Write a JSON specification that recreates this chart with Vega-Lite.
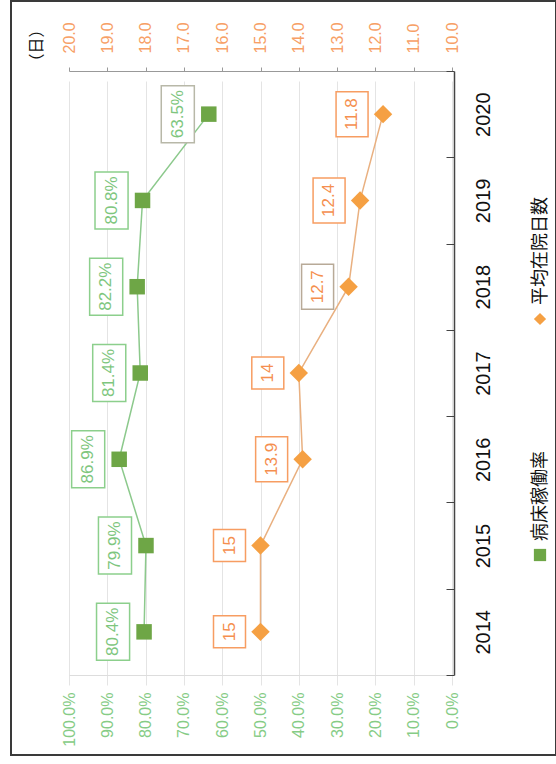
{
  "$schema": "https://vega.github.io/schema/vega-lite/v6.json",
  "width": 545,
  "height": 754,
  "autosize": {"type": "none"},
  "padding": {"left": 11, "top": 1, "right": 0, "bottom": 9},
  "background": "white",
  "config": {"view": {"stroke": "#3a3a3a", "strokeWidth": 2}, "font": "Liberation Sans"},
  "data": {
    "values": [
      {"series": "病床稼働率", "year": "2014", "value": 0.804},
      {"series": "病床稼働率", "year": "2015", "value": 0.799},
      {"series": "病床稼働率", "year": "2016", "value": 0.869},
      {"series": "病床稼働率", "year": "2017", "value": 0.814},
      {"series": "病床稼働率", "year": "2018", "value": 0.822},
      {"series": "病床稼働率", "year": "2019", "value": 0.808},
      {"series": "病床稼働率", "year": "2020", "value": 0.635},
      {"series": "平均在院日数", "year": "2014", "value": 15},
      {"series": "平均在院日数", "year": "2015", "value": 15},
      {"series": "平均在院日数", "year": "2016", "value": 13.9},
      {"series": "平均在院日数", "year": "2017", "value": 14},
      {"series": "平均在院日数", "year": "2018", "value": 12.7},
      {"series": "平均在院日数", "year": "2019", "value": 12.4},
      {"series": "平均在院日数", "year": "2020", "value": 11.8}
    ]
  },
  "layer": [
    {
      "transform": [{"filter": "datum.series == '病床稼働率'"}],
      "encoding": {
        "y": {
          "field": "year", "type": "ordinal", "sort": "descending",
          "scale": {"type": "band", "paddingInner": 0, "paddingOuter": 0, "range": [70, 674]},
          "axis": {
            "orient": "right", "offset": -102, "title": null, "labelAngle": -90, "labelAlign": "center", "labelBaseline": "top",
            "labelFontSize": 20, "labelColor": "#111111", "labelPadding": 27, "tickBand": "extent",
            "tickSize": -8, "tickColor": "#444444", "domainColor": "#444444", "domainWidth": 1.5, "grid": false
          }
        },
        "x": {
          "field": "value", "type": "quantitative",
          "scale": {"domain": [0, 1], "range": [441, 58], "nice": false, "zero": false},
          "axis": {
            "orient": "bottom", "offset": -80, "format": ".1%", "values": [0, 0.1, 0.2, 0.3, 0.4, 0.5, 0.6, 0.7, 0.8, 0.9, 1],
            "grid": true, "gridColor": "#e4e4e4", "gridWidth": 1, "ticks": false, "domainColor": "#dddddd",
            "labelAngle": -90, "labelAlign": "right", "labelBaseline": "middle", "labelPadding": 17,
            "labelColor": "#86cc86", "labelFontSize": 16, "title": null, "labelOverlap": false, "labelFlush": false
          }
        }
      },
      "layer": [
        {"mark": {"type": "line", "color": "#8cc98c", "strokeWidth": 1.5}},
        {
          "mark": {"type": "point", "shape": "M-0.58,-1H0.58V1H-0.58Z", "size": 3249, "fill": "white", "fillOpacity": 1, "opacity": 1, "strokeWidth": 1.5, "xOffset": -31},
          "encoding": {"stroke": {"condition": {"test": "datum.year == '2020'", "value": "#b8b8a8"}, "value": "#8ccf8c"}}
        },
        {
          "mark": {"type": "point", "filled": true, "size": 240, "opacity": 1},
          "encoding": {
            "color": {
              "field": "series", "type": "nominal",
              "scale": {"domain": ["平均在院日数", "病床稼働率"], "range": ["#f5a043", "#6ea646"]},
              "legend": {
                "title": null, "orient": "none", "legendX": 520, "legendY": 309, "direction": "vertical",
                "symbolSize": 150, "symbolStrokeWidth": 0, "labelFont": "Noto Sans CJK JP", "labelFontSize": 18,
                "labelColor": "#111111", "rowPadding": 125, "padding": 0, "labelLimit": 300, "labelOffset": -8,
                "encoding": {"labels": {"angle": {"value": -90}, "align": {"value": "left"}, "baseline": {"value": "middle"}, "dx": {"value": 14}}}
              }
            },
            "shape": {
              "field": "series", "type": "nominal",
              "scale": {"domain": ["平均在院日数", "病床稼働率"], "range": ["diamond", "square"]},
              "legend": {
                "title": null, "orient": "none", "legendX": 520, "legendY": 309, "direction": "vertical",
                "symbolSize": 150, "symbolStrokeWidth": 0, "labelFont": "Noto Sans CJK JP", "labelFontSize": 18,
                "labelColor": "#111111", "rowPadding": 125, "padding": 0, "labelLimit": 300, "labelOffset": -8,
                "encoding": {"labels": {"angle": {"value": -90}, "align": {"value": "left"}, "baseline": {"value": "middle"}, "dx": {"value": 14}}}
              }
            }
          }
        },
        {
          "mark": {"type": "text", "angle": -90, "fontSize": 17, "fill": "#7ec67e", "align": "center", "baseline": "middle", "xOffset": -31},
          "encoding": {"text": {"field": "value", "type": "quantitative", "format": ".1%"}}
        }
      ]
    },
    {
      "transform": [{"filter": "datum.series == '平均在院日数'"}],
      "encoding": {
        "y": {
          "field": "year", "type": "ordinal", "sort": "descending",
          "scale": {"type": "band", "paddingInner": 0, "paddingOuter": 0, "range": [70, 674]}
        },
        "x": {
          "field": "value", "type": "quantitative",
          "scale": {"domain": [10, 20], "range": [441, 58], "nice": false, "zero": false},
          "axis": {
            "orient": "top", "offset": -70, "format": ".1f", "values": [10, 11, 12, 13, 14, 15, 16, 17, 18, 19, 20],
            "grid": false, "ticks": true, "tickSize": 4, "tickColor": "#999999", "domainColor": "#999999",
            "labelAngle": -90, "labelAlign": "left", "labelBaseline": "middle", "labelPadding": 14,
            "labelColor": "#f7a066", "labelFontSize": 16, "labelOverlap": false, "labelFlush": false,
            "title": "（日）", "titleAngle": -90, "titleX": 25, "titleY": -26, "titleAlign": "center",
            "titleBaseline": "middle", "titleFont": "Noto Sans CJK JP", "titleFontSize": 16,
            "titleFontWeight": "normal", "titleColor": "#111111"
          }
        }
      },
      "layer": [
        {"mark": {"type": "line", "color": "#e9b080", "strokeWidth": 1.5}},
        {
          "mark": {"type": "point", "size": 2025, "fill": "white", "fillOpacity": 1, "opacity": 1, "strokeWidth": 1.5, "xOffset": -31},
          "encoding": {
            "shape": {"condition": {"test": "datum.value == floor(datum.value)", "value": "M-0.711,-0.711H0.711V0.711H-0.711Z"}, "value": "M-0.711,-1H0.711V1H-0.711Z"},
            "stroke": {"condition": {"test": "datum.year == '2018'", "value": "#b8aa98"}, "value": "#f79d62"}
          }
        },
        {
          "mark": {"type": "point", "filled": true, "size": 340, "opacity": 1},
          "encoding": {
            "color": {
              "field": "series", "type": "nominal",
              "scale": {"domain": ["平均在院日数", "病床稼働率"], "range": ["#f5a043", "#6ea646"]},
              "legend": {
                "title": null, "orient": "none", "legendX": 520, "legendY": 309, "direction": "vertical",
                "symbolSize": 150, "symbolStrokeWidth": 0, "labelFont": "Noto Sans CJK JP", "labelFontSize": 18,
                "labelColor": "#111111", "rowPadding": 125, "padding": 0, "labelLimit": 300, "labelOffset": -8,
                "encoding": {"labels": {"angle": {"value": -90}, "align": {"value": "left"}, "baseline": {"value": "middle"}, "dx": {"value": 14}}}
              }
            },
            "shape": {
              "field": "series", "type": "nominal",
              "scale": {"domain": ["平均在院日数", "病床稼働率"], "range": ["diamond", "square"]},
              "legend": {
                "title": null, "orient": "none", "legendX": 520, "legendY": 309, "direction": "vertical",
                "symbolSize": 150, "symbolStrokeWidth": 0, "labelFont": "Noto Sans CJK JP", "labelFontSize": 18,
                "labelColor": "#111111", "rowPadding": 125, "padding": 0, "labelLimit": 300, "labelOffset": -8,
                "encoding": {"labels": {"angle": {"value": -90}, "align": {"value": "left"}, "baseline": {"value": "middle"}, "dx": {"value": 14}}}
              }
            }
          }
        },
        {
          "mark": {"type": "text", "angle": -90, "fontSize": 17, "fill": "#f58f4f", "align": "center", "baseline": "middle", "xOffset": -31},
          "encoding": {"text": {"field": "value", "type": "quantitative", "format": "~g"}}
        }
      ]
    }
  ],
  "resolve": {"scale": {"x": "independent"}, "axis": {"x": "independent"}}
}
